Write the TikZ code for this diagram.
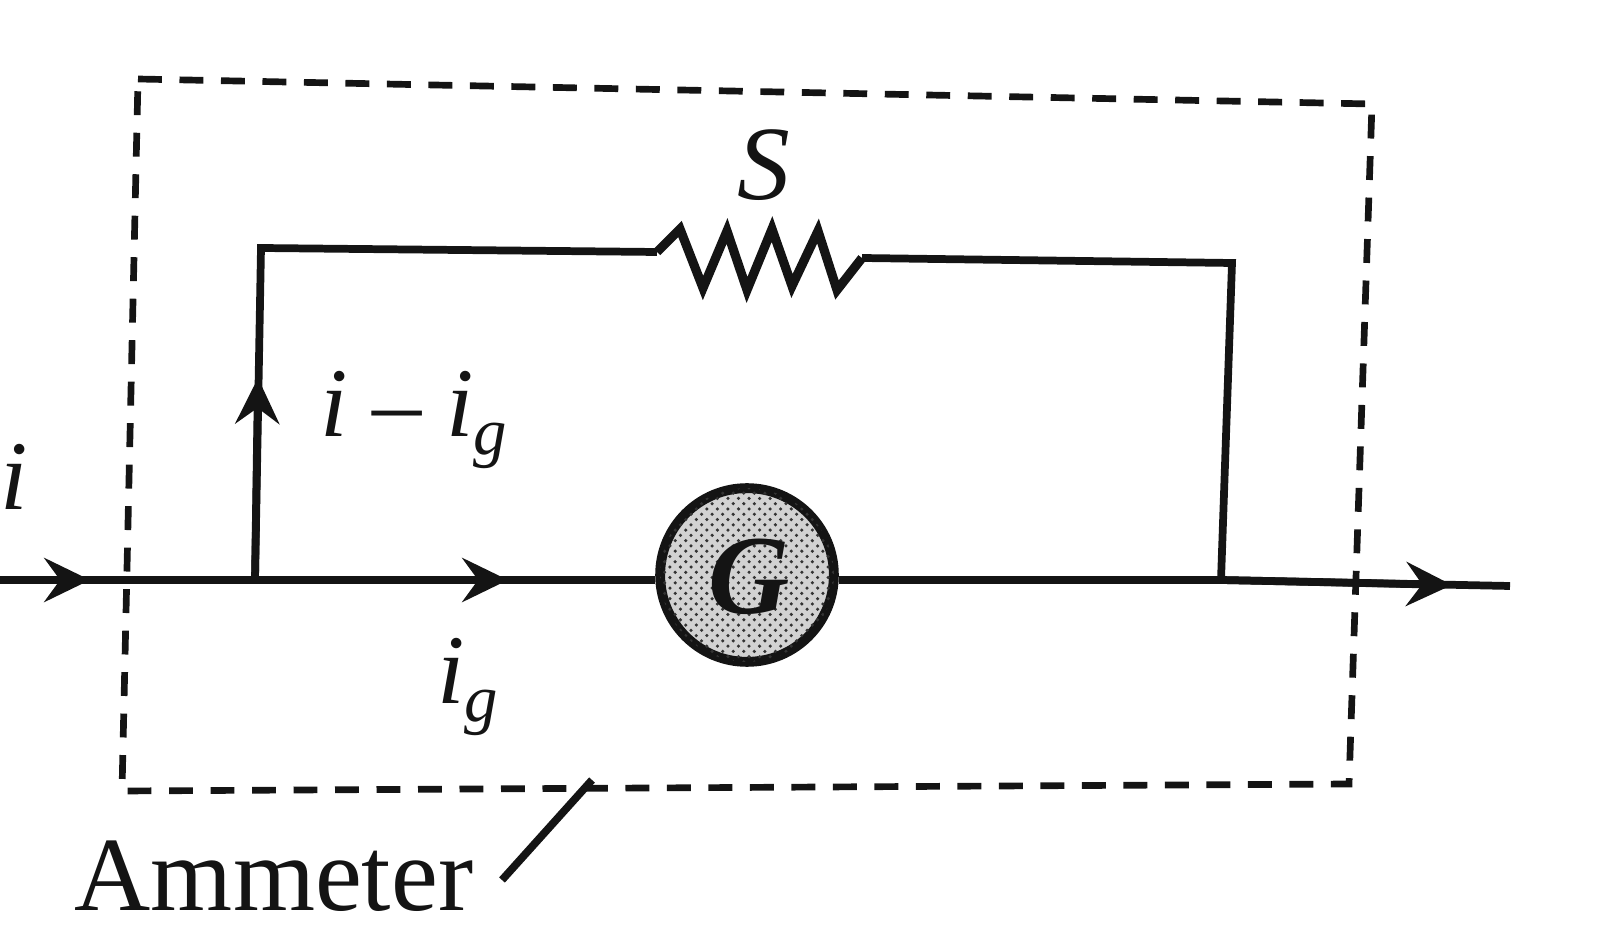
\documentclass[tikz,border=0pt]{standalone}
\usepackage{fontspec}
\setmainfont{Liberation Serif}
\usetikzlibrary{arrows.meta,patterns}
\definecolor{ink}{HTML}{141414}
\newcommand{\subg}{\raisebox{-5pt}{\fontsize{19}{19}\selectfont g}}
\tikzset{
 x=0.01cm,y=-0.01cm,
 wire/.style={line width=2.2pt,color=ink,line join=miter},
 dashbox/.style={line width=1.9pt,color=ink,dash pattern=on 6.8pt off 5pt},
 lbl/.style={font=\itshape\fontsize{28}{28}\selectfont,text=ink,inner sep=0pt},
 tip/.style={-{Stealth[length=13pt,width=12.5pt,inset=4.5pt]}},
 meter/.style={circle,draw=ink,line width=2.8pt,fill=gray!35,minimum size=49.4pt,inner sep=0pt,
   postaction={pattern=crosshatch dots,pattern color=black!80}},
}
\begin{document}
\begin{tikzpicture}
\useasboundingbox (0,0) rectangle (1600,931);
\coordinate (tl) at (138,79); \coordinate (tr) at (1372,104);
\coordinate (br) at (1349,784); \coordinate (bl) at (122,791);
\draw[dashbox] (tl)--(tr)--(br)--(bl)--cycle;
\coordinate (w0) at (0,580); \coordinate (j1) at (255,580);
\coordinate (j2) at (1221,580); \coordinate (w1) at (1510,586);
\coordinate (t1) at (261,248); \coordinate (t2) at (1232,263);
\coordinate (r1) at (657,252); \coordinate (r2) at (862,258);
\coordinate (a1) at (90,580); \coordinate (a2) at (508,580);
\coordinate (a3) at (1452,585); \coordinate (a4) at (258,378);
\node[meter] (G) at (747,575) {};
\node[font=\bfseries\itshape\fontsize{32}{32}\selectfont,text=ink,inner sep=0pt] (Gl) at (749,577) {G};
\draw[wire] (w0)--(j1)--(j1 -| G.west);
\draw[wire] (j2 -| G.east)--(j2)--(w1);
\draw[wire] (j1)--(t1)--(r1);
\draw[wire,line width=2.6pt] (r1)--(680,229)--(703,288)--(727,231)--(747,290)--(772,229)--(792,286)--(818,231)--(837,290)--(r2);
\draw[wire] (r2)--(t2)--(j2);
\draw[wire,tip] (w0)--(a1);
\draw[wire,tip] (j1)--(a2);
\draw[wire,tip] (j2)--(a3);
\draw[wire,tip] (j1)--(a4);
\node[lbl,font=\itshape\fontsize{30}{30}\selectfont] (S) at (764,165) {S};
\node[lbl] (i) at (14,477) {i};
\node[lbl] (iig) at (414,420) {i\hspace{7pt}–\hspace{7pt}i\subg};
\node[lbl] (ig) at (468,687) {i\subg};
\node[font=\fontsize{30}{30}\selectfont,text=ink,inner sep=0pt] (am) at (274,876) {Ammeter};
\coordinate (p1) at (502,880); \coordinate (p2) at (592,780);
\draw[wire] (p1)--(p2);
\end{tikzpicture}
\end{document}
